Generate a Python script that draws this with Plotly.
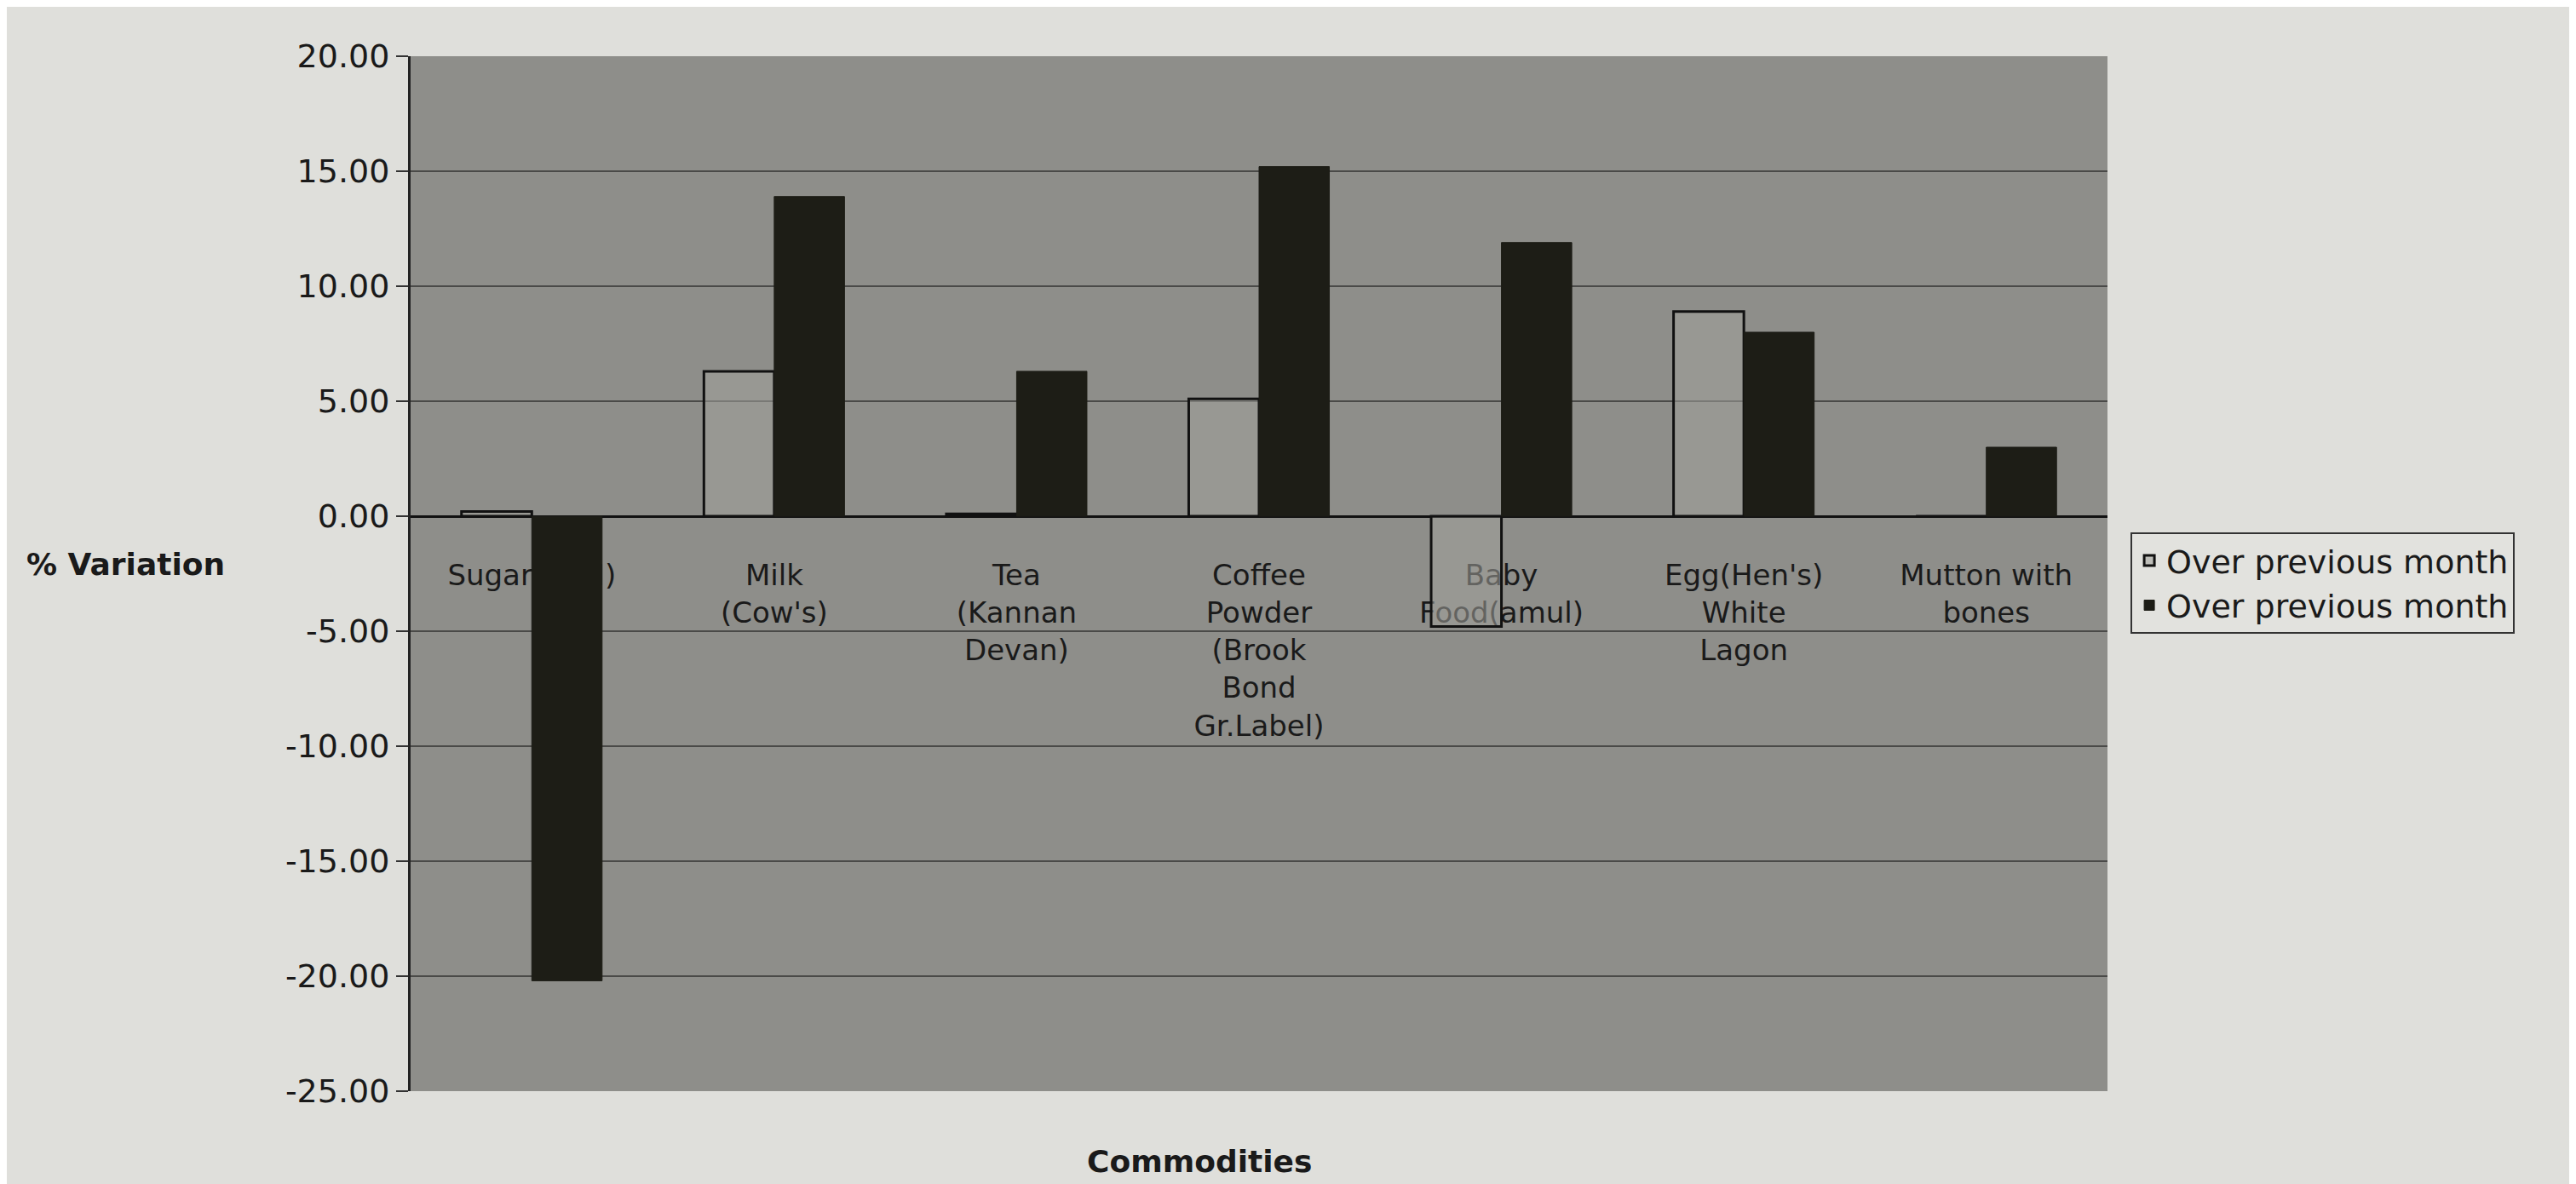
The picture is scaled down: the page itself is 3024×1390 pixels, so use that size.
import plotly.graph_objects as go

# commodities on the x axis (labels wrap like the excel chart)
commodities = ["Sugar (ISM)", "Milk<br>(Cow's)", "Tea<br>(Kannan<br>Devan)",
               "Coffee<br>Powder<br>(Brook<br>Bond<br>Gr.Label)", "Baby<br>Food(amul)",
               "Egg(Hen's)<br>White<br>Lagon", "Mutton with<br>bones"]

# % variation
series1 = [0.2, 6.3, 0.1, 5.1, -4.8, 8.9, 0.0]
series2 = [-20.2, 13.9, 6.3, 15.2, 11.9, 8.0, 3.0]
series_names = ["Over previous month", "Over previous month"]

ytick_vals = [20, 15, 10, 5, 0, -5, -10, -15, -20, -25]
ytick_text = ["20.00", "15.00", "10.00", "5.00", "0.00", "-5.00", "-10.00", "-15.00", "-20.00", "-25.00"]

FONT = "DejaVu Sans"

fig = go.Figure()
fig.add_trace(go.Bar(x=commodities, y=series1, name=series_names[0],
                     marker=dict(color="rgba(160,160,154,0.55)", line=dict(color="#111", width=3))))
fig.add_trace(go.Bar(x=commodities, y=series2, name=series_names[1],
                     marker=dict(color="#1d1d16", line=dict(color="#1d1d16", width=1))))

# page body adds an 8px offset, so the figure is a bit smaller
fig.update_layout(
    width=3016, height=1382,
    margin=dict(l=474, r=550, t=58, b=109),
    paper_bgcolor="#dfdfdb",
    plot_bgcolor="#8e8e8a",
    font=dict(family=FONT, size=36, color="#1a1a1a"),
    barmode="group", bargap=0.42, bargroupgap=0,
    showlegend=True,
    legend=dict(x=1.0136, xanchor="left", y=0.54, yanchor="top",
                bgcolor="#e2e2de", bordercolor="#333", borderwidth=2,
                font=dict(size=38), tracegroupgap=0),
)

# x axis sits on the zero line, like excel does
fig.update_xaxes(anchor="free", position=25 / 45, side="bottom",
                 showline=True, linecolor="#111", linewidth=3,
                 ticks="", ticklabelstandoff=38, layer="below traces",
                 tickfont=dict(size=34, color="#1a1a1a"), showgrid=False)
fig.update_yaxes(range=[-25, 20], tickvals=ytick_vals, ticktext=ytick_text,
                 showgrid=True, gridcolor="#4a4a48", gridwidth=2, zeroline=False,
                 showline=True, linecolor="#222", linewidth=3,
                 ticks="outside", ticklen=14, tickcolor="#333", tickwidth=2,
                 tickfont=dict(size=38, color="#1a1a1a"))

fig.add_annotation(text="<b>% Variation</b>", xref="paper", yref="y",
                   x=-0.2274, y=-2.1, xanchor="left", yanchor="middle",
                   showarrow=False, font=dict(size=36))
fig.add_annotation(text="<b>Commodities</b>", xref="paper", yref="paper",
                   x=0.465, y=-0.0675, xanchor="center", yanchor="middle",
                   showarrow=False, font=dict(size=36))

fig.write_html("out.html")
